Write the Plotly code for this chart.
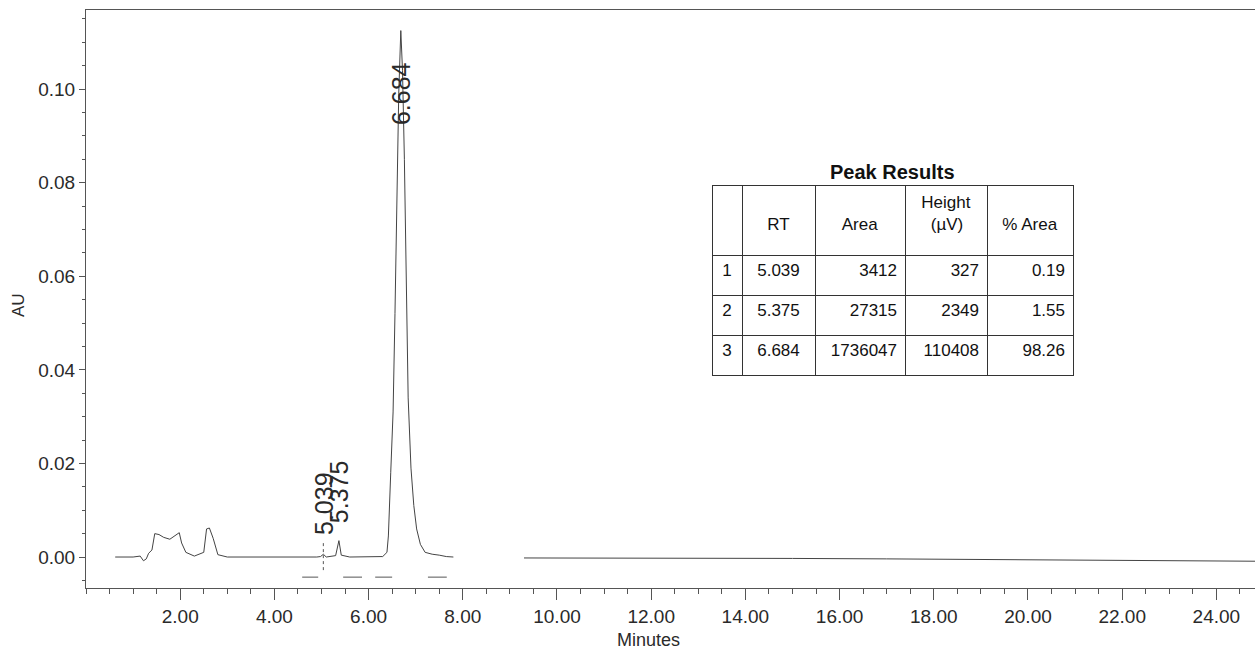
import plotly.graph_objects as go

# ---------------- data ----------------
TIME = [0.62, 1.00, 1.15, 1.22, 1.28, 1.33, 1.40, 1.46, 1.55, 1.65, 1.78, 1.90, 1.98,
        2.03, 2.12, 2.30, 2.50, 2.56, 2.62, 2.70, 2.80, 3.00, 3.50, 4.00, 4.50, 4.90,
        4.98, 5.04, 5.10, 5.30, 5.37, 5.42, 5.60, 6.00, 6.30, 6.39, 6.42, 6.47, 6.52,
        6.56, 6.60, 6.64, 6.684, 6.72, 6.76, 6.80, 6.84, 6.90, 6.96, 7.02, 7.10, 7.20,
        7.35, 7.50, 7.65, 7.80, None, 9.30, 12.0, 15.0, 17.0, 19.0, 22.0, 24.82]
AU = [0.0, 0.0, 0.0002, -0.0008, -0.0004, 0.0008, 0.0015, 0.0050, 0.0048, 0.0042, 0.0038,
      0.0046, 0.0052, 0.0030, 0.0010, 0.0002, 0.0010, 0.0060, 0.0062, 0.0040, 0.0005,
      0.0, 0.0, -0.0001, 0.0, 0.0, 0.0001, 0.0006, 0.0, 0.0003, 0.0035, 0.0004, 0.0,
      0.0, 0.0001, 0.0010, 0.0045, 0.018, 0.031, 0.052, 0.078, 0.099, 0.1125, 0.104,
      0.085, 0.055, 0.034, 0.019, 0.011, 0.0060, 0.0027, 0.0010, 0.0006, 0.0004,
      0.0001, 0.0, None, -0.0002, -0.0002, -0.0003, -0.0004, -0.0005, -0.0007, -0.0009]

# integration event marks below the baseline
EVENT_START = [4.59, 5.46, 6.14, 7.26]
EVENT_END = [4.93, 5.86, 6.50, 7.66]
EVENT_LEVEL = -0.0043
DROP_X = [5.039, 5.039]
DROP_Y = [-0.0028, 0.0030]

# peak table
PEAK_NO = ["1", "2", "3"]
PEAK_RT = [5.039, 5.375, 6.684]
PEAK_AREA = [3412, 27315, 1736047]
PEAK_HEIGHT = [327, 2349, 110408]
PEAK_PCT = [0.19, 1.55, 98.26]
LABEL_Y = [0.0114, 0.0139, 0.0991]

NB = "\u00a0"
TABLE_HEADER = ["", NB + "<br>RT", NB + "<br>Area", "Height<br>" + NB * 2 + "(µV)",
                NB + "<br>% Area"]

X_TICKS = [2, 4, 6, 8, 10, 12, 14, 16, 18, 20, 22, 24]
X_LABELS = ["2.00", "4.00", "6.00", "8.00", "10.00", "12.00", "14.00", "16.00",
            "18.00", "20.00", "22.00", "24.00"]
Y_TICKS = [0.00, 0.02, 0.04, 0.06, 0.08, 0.10]
Y_LABELS = ["0.00", "0.02", "0.04", "0.06", "0.08", "0.10"]

# ---------------- figure ----------------
W, H = 1255, 653
FONT = "Liberation Sans, Arial, sans-serif"
INK = "#2a2a2a"
LINE = "#555555"

fig = go.Figure()

fig.add_trace(go.Scatter(x=TIME, y=AU, mode="lines",
                         line=dict(color="#444444", width=1), connectgaps=False,
                         hoverinfo="skip", showlegend=False))

ex, ey = [], []
for s, e in zip(EVENT_START, EVENT_END):
    ex += [s, e, None]
    ey += [EVENT_LEVEL, EVENT_LEVEL, None]
fig.add_trace(go.Scatter(x=ex, y=ey, mode="lines", line=dict(color="#555555", width=1),
                         hoverinfo="skip", showlegend=False))
fig.add_trace(go.Scatter(x=DROP_X, y=DROP_Y, mode="lines",
                         line=dict(color="#555555", width=1, dash="dot"),
                         hoverinfo="skip", showlegend=False))

fig.add_trace(go.Table(
    domain=dict(x=[712 / W, 1073 / W], y=[1 - 378 / H, 1 - 185 / H]),
    columnwidth=[30, 73, 90, 82, 86],
    header=dict(values=TABLE_HEADER, height=70, align="center",
                line=dict(color="#333333", width=1), fill=dict(color="white"),
                font=dict(family=FONT, size=17, color="#111111")),
    cells=dict(values=[PEAK_NO,
                       [f"{v:.3f}" for v in PEAK_RT],
                       [str(v) for v in PEAK_AREA],
                       [str(v) for v in PEAK_HEIGHT],
                       [f"{v:.2f}" for v in PEAK_PCT]],
               height=40, align=["center", "center", "right", "right", "right"],
               line=dict(color="#333333", width=1), fill=dict(color="white"),
               font=dict(family=FONT, size=17, color="#111111")),
))

annotations = []
for rt, ly in zip(PEAK_RT, LABEL_Y):
    annotations.append(dict(x=rt, y=ly, xref="x", yref="y", text=f"{rt:.3f}",
                            textangle=-90, showarrow=False, xanchor="center",
                            yanchor="middle", font=dict(family=FONT, size=25, color=INK)))
annotations += [
    dict(x=18 / W, y=1 - 305 / H, xref="paper", yref="paper", text="AU", textangle=-90,
         showarrow=False, xanchor="center", yanchor="middle",
         font=dict(family=FONT, size=17, color=INK)),
    dict(x=648 / W, y=1 - 640 / H, xref="paper", yref="paper", text="Minutes",
         showarrow=False, xanchor="center", yanchor="middle",
         font=dict(family="Liberation Sans Narrow, " + FONT, size=18, color=INK)),
    dict(x=892 / W, y=1 - 172 / H, xref="paper", yref="paper", text="<b>Peak Results</b>",
         showarrow=False, xanchor="center", yanchor="middle",
         font=dict(family=FONT, size=20, color="#111111")),
]

fig.update_layout(
    width=W, height=H, margin=dict(l=0, r=0, t=0, b=0),
    paper_bgcolor="white", plot_bgcolor="white", template="none",
    showlegend=False, annotations=annotations,
    xaxis=dict(domain=[86 / W, 1.0], range=[0, 24.82], showline=True, linecolor=LINE,
               linewidth=1, mirror=True, ticks="outside", ticklen=11, tickcolor=LINE,
               tickvals=X_TICKS, ticktext=X_LABELS, showgrid=False, zeroline=False,
               tickfont=dict(family=FONT, size=19, color=INK), automargin=False,
               minor=dict(dtick=0.5, tick0=0, ticks="outside", ticklen=5, tickcolor=LINE)),
    yaxis=dict(domain=[1 - 588 / H, 1 - 10 / H], range=[-0.00662, 0.1169], showline=True,
               linecolor=LINE, linewidth=1, ticks="outside", ticklen=6, tickcolor=LINE,
               tickvals=Y_TICKS, ticktext=Y_LABELS, showgrid=False, zeroline=False,
               tickfont=dict(family=FONT, size=19, color=INK), automargin=False,
               minor=dict(dtick=0.005, tick0=0, ticks="outside", ticklen=3, tickcolor=LINE)),
)

fig.write_html("out.html", config={"displayModeBar": False},
               post_script="document.body.style.margin='0';document.body.style.overflow='hidden';")
